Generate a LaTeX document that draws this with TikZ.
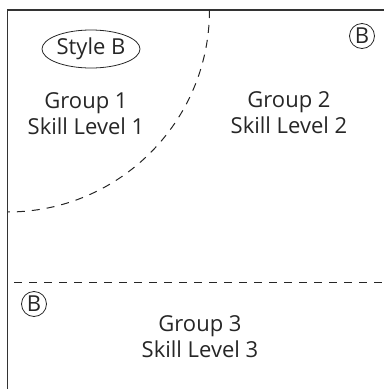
\documentclass[tikz,border=0pt]{standalone}
\usepackage{fontspec}
\setmainfont{Open Sans}
\usetikzlibrary{shapes.geometric}
\begin{document}
\begin{tikzpicture}[x=1pt,y=-1pt,
  frame/.style={line width=1.3pt,draw=black!80},
  divider/.style={line width=1pt,draw=black!85,dash pattern=on 8pt off 7pt},
  lbl/.style={font=\fontsize{22}{26}\selectfont,text=black!85,align=center,inner sep=0pt},
  badge/.style={circle,draw=black!85,line width=0.8pt,font=\fontsize{22}{22}\selectfont,text=black!85,inner sep=1pt,minimum size=25pt},
  tag/.style={ellipse,draw=black!85,line width=0.8pt,font=\fontsize{22}{22}\selectfont,text=black!85,minimum width=98pt,minimum height=38pt,inner sep=0pt}]
\useasboundingbox (0,0) rectangle (384,389);
\coordinate (corner) at (7.5,10);
\coordinate (topend) at (384,10);
\coordinate (leftend) at (7.5,389);
\draw[frame] (leftend) -- (corner) -- (topend);
\coordinate (arcstart) at (209.5,10);
\draw[divider] (arcstart) arc[start angle=0,end angle=90,radius=202];
\coordinate (hl) at (14,282);
\coordinate (hr) at (384,282);
\draw[divider] (hl) -- (hr);
\node[tag] (style) at (91,49) {Style B};
\node[lbl] (g1) at (86,114) {Group 1\\Skill Level 1};
\node[lbl] (g2) at (289,113) {Group 2\\Skill Level 2};
\node[lbl] (g3) at (200,337) {Group 3\\Skill Level 3};
\node[badge] (b1) at (362,36) {B};
\node[badge] (b2) at (34,304) {B};
\end{tikzpicture}
\end{document}
